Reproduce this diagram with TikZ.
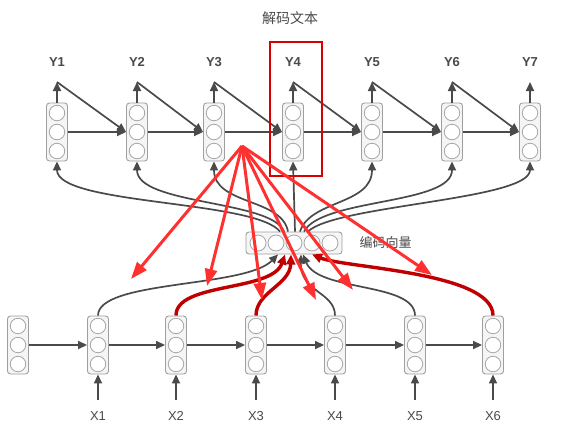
\documentclass[tikz,border=0pt]{standalone}
\usepackage{fontspec}
\setmainfont{Liberation Sans}
\newfontfamily\cjk{Noto Sans CJK SC}
\usetikzlibrary{arrows.meta}

\definecolor{lgray}{HTML}{4A4A4A}
\definecolor{dred}{HTML}{C00000}
\definecolor{bred}{HTML}{FF3030}

\begin{document}
\begin{tikzpicture}[
  x=1pt, y=-1pt,
  font=\fontsize{13}{15}\selectfont,
  garr/.style={-{Triangle[length=9pt,width=8pt]}, line width=1.7pt, draw=lgray},
  rcurve/.style={-{Triangle[length=10pt,width=9pt]}, line width=3.4pt, draw=dred},
  rarr/.style={-{Triangle[length=17pt,width=12pt]}, line width=3pt, draw=bred},
  cellbox/.style={rectangle, rounded corners=3pt, draw=gray!75, fill=gray!8,
                  line width=0.9pt, minimum width=21pt, minimum height=58pt, inner sep=0pt},
  vecbox/.style={rectangle, rounded corners=3pt, draw=gray!75, fill=gray!8,
                 line width=0.9pt, minimum width=96pt, minimum height=22pt, inner sep=0pt},
  unit/.style={circle, draw=gray!70, fill=white, line width=0.8pt,
               minimum size=15.5pt, inner sep=0pt},
  lab/.style={text=lgray},
  focus/.style={rectangle, draw=red!85!black, line width=1.6pt,
                minimum width=52pt, minimum height=134pt},
]
\useasboundingbox (0,0) rectangle (585,442);

%% ===== title =====
\node[lab, font=\cjk\fontsize{14}{16}\selectfont] (title) at (290,18) {解码文本};

%% ===== decoder =====
\foreach \i/\x in {1/57,2/137,3/214,4/293,5/372,6/452,7/530} {
  \node[cellbox] (d\i) at (\x,132) {};
  \foreach \k in {-1,0,1}
    \node[unit] at ([yshift=\k*19pt]d\i.center) {};
  \node[lab, font=\bfseries\fontsize{13}{15}\selectfont] (y\i) at (\x,62) {Y\i};
  \coordinate (t\i) at (\x,82);
  \draw[garr] (d\i.north) -- (t\i);
}
\foreach \i [evaluate=\i as \j using int(\i+1)] in {1,...,6} {
  \draw[garr] (d\i.east) -- (d\j.west);
  \draw[garr] (t\i) -- (d\j.west);
}

%% ===== encoder =====
\foreach \i/\x in {0/18,1/98,2/176,3/256,4/335,5/415,6/493} {
  \node[cellbox] (e\i) at (\x,345) {};
  \foreach \k in {-1,0,1}
    \node[unit] at ([yshift=\k*19pt]e\i.center) {};
}
\foreach \i/\x in {1/98,2/176,3/256,4/335,5/415,6/493} {
  \coordinate (b\i) at (\x,400);
  \draw[garr] (b\i) -- (e\i.south);
  \node[lab] (x\i) at (\x,416) {X\i};
}
\foreach \i [evaluate=\i as \j using int(\i+1)] in {0,...,5}
  \draw[garr] (e\i.east) -- (e\j.west);

%% ===== context vector =====
\node[vecbox] (v) at (294,243) {};
\foreach \k in {-2,...,2}
  \node[unit, minimum size=16pt] at ([xshift=\k*18pt]v.center) {};
\node[lab, anchor=west, font=\cjk\fontsize{13}{15}\selectfont] (vlab) at (356,243) {编码向量};

%% vector -> decoder
\draw[garr] ([xshift=-14pt]v.north) .. controls (255,200) and (57,205) .. (d1.south);
\draw[garr] ([xshift=-10pt]v.north) .. controls (272,200) and (137,205) .. (d2.south);
\draw[garr] ([xshift=-6pt]v.north) .. controls (282,198) and (214,205) .. (d3.south);
\draw[garr] ([xshift=1pt]v.north) -- (d4.south);
\draw[garr] ([xshift=6pt]v.north) .. controls (310,200) and (372,205) .. (d5.south);
\draw[garr] ([xshift=10pt]v.north) .. controls (322,198) and (452,205) .. (d6.south);
\draw[garr] ([xshift=14pt]v.north) .. controls (335,205) and (530,200) .. (d7.south);

%% encoder -> vector
\draw[garr] (e1.north) .. controls (98,280) and (245,288) .. ([xshift=-16pt]v.south);
\draw[garr] (e4.north) .. controls (335,292) and (300,292) .. ([xshift=7pt]v.south);
\draw[garr] (e5.north) .. controls (415,282) and (318,292) .. ([xshift=9pt]v.south);
\draw[rcurve] (e2.north) .. controls (176,282) and (272,292) .. ([xshift=-9pt]v.south);
\draw[rcurve] (e3.north) .. controls (256,292) and (290,285) .. ([xshift=-3pt]v.south);
\draw[rcurve] (e6.north) .. controls (493,272) and (345,268) .. ([xshift=18pt]v.south);

%% ===== focus on Y4 =====
\node[focus] (hl) at (296,109) {};

%% ===== attention fan =====
\coordinate (hub) at (242,146);
\foreach \tx/\ty in {131/279, 207/286, 262/300, 316/300, 353/290, 432/275} {
  \coordinate (tip) at (\tx,\ty);
  \draw[rarr] (hub) -- (tip);
}
\end{tikzpicture}
\end{document}
